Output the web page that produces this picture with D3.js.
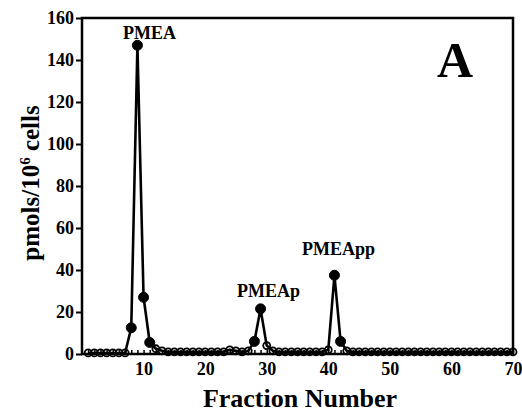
<!DOCTYPE html>
<html>
<head>
<meta charset="utf-8">
<script src="https://cdn.jsdelivr.net/npm/d3@7"></script>
<style>
  body { margin: 0; background: #fff; }
  svg { display: block; }
  text { font-family: "Liberation Serif", "DejaVu Serif", serif; font-weight: bold; fill: #000; }
</style>
</head>
<body>
<div id="chart"></div>
<script>
const fractions = d3.range(1, 71);
const pmols = [
  0.5, 0.5, 0.5, 0.5, 0.5, 0.5, 0.5, 12.5, 147, 27,
  5.5, 2.5, 1.5, 1, 1, 1, 1, 1, 1, 1,
  1, 1, 1, 2, 1.5, 1, 1.5, 6, 21.5, 4,
  1.5, 1, 1, 1, 1, 1, 1, 1, 1, 2,
  37.5, 6, 1.5, 1, 1, 1, 1, 1, 1, 1,
  1, 1, 1, 1, 1, 1, 1, 1, 1, 1,
  1, 1, 1, 1, 1, 1, 1, 1, 1, 1
];
// fractions drawn with filled markers (the peaks)
const filled = [8, 9, 10, 11, 28, 29, 41, 42];
const peakLabels = ["PMEA", "PMEAp", "PMEApp"];
const peakLabelAt = [[9, 150], [29, 27], [41, 47]];
const yTicks = [0, 20, 40, 60, 80, 100, 120, 140, 160];
const xLabelTicks = [10, 20, 30, 40, 50, 60, 70];

const width = 522;
const height = 415;
const pl = 82, pr = 9, pt = 18, pb = 61;
const serif = "'Liberation Serif', 'DejaVu Serif', serif";

const data = fractions.map((f, i) => ({ f, v: pmols[i], filled: filled.includes(f) }));

const x = d3.scaleLinear().domain([0, 70]).range([pl, width - pr]);
const y = d3.scaleLinear().domain([0, 160]).range([height - pb, pt]);

const svg = d3.select("#chart").append("svg")
  .attr("width", width)
  .attr("height", height);

// frame
svg.append("rect")
  .attr("x", pl).attr("y", pt)
  .attr("width", width - pl - pr)
  .attr("height", height - pt - pb)
  .attr("fill", "none")
  .attr("stroke", "#000")
  .attr("stroke-width", 2.5);

// y axis
const yAxis = svg.append("g")
  .attr("transform", `translate(${pl},0)`)
  .call(d3.axisLeft(y).tickValues(yTicks).tickSize(6).tickPadding(2))
  .attr("font-family", serif)
  .attr("font-size", 18)
  .attr("font-weight", "bold");
yAxis.select(".domain").remove();
yAxis.selectAll(".tick line").attr("stroke-width", 2);

// x axis: minor inward ticks every fraction, labels every 10
const xAxis = svg.append("g")
  .attr("transform", `translate(0,${height - pb})`)
  .call(d3.axisBottom(x)
    .tickValues(d3.range(1, 71))
    .tickSize(-4)
    .tickPadding(8)
    .tickFormat(d => xLabelTicks.includes(d) ? d : ""))
  .attr("font-family", serif)
  .attr("font-size", 18)
  .attr("font-weight", "bold");
xAxis.select(".domain").remove();
xAxis.selectAll(".tick line").attr("stroke-width", 1.5);

// data line
svg.append("path")
  .datum(data)
  .attr("fill", "none")
  .attr("stroke", "#000")
  .attr("stroke-width", 2.6)
  .attr("stroke-linejoin", "round")
  .attr("d", d3.line().x(d => x(d.f)).y(d => y(d.v)));

// markers
svg.append("g")
  .selectAll("circle")
  .data(data)
  .join("circle")
  .attr("cx", d => x(d.f))
  .attr("cy", d => y(d.v))
  .attr("r", d => d.filled ? 5 : 3.5)
  .attr("fill", d => d.filled ? "#000" : "none")
  .attr("stroke", "#000")
  .attr("stroke-width", d => d.filled ? 1 : 1.8);

// peak labels
svg.append("g")
  .selectAll("text")
  .data(peakLabels)
  .join("text")
  .attr("x", (d, i) => x(peakLabelAt[i][0]))
  .attr("y", (d, i) => y(peakLabelAt[i][1]))
  .attr("dx", (d, i) => [12, 8, 4][i])
  .attr("text-anchor", "middle")
  .style("font-size", "18px")
  .text(d => d);

// panel letter
svg.append("text")
  .attr("x", 455)
  .attr("y", 77)
  .attr("text-anchor", "middle")
  .style("font-size", "50px")
  .text("A");

// axis titles
svg.append("text")
  .attr("x", 300)
  .attr("y", 407)
  .attr("text-anchor", "middle")
  .style("font-size", "26px")
  .text("Fraction Number");

const yTitle = svg.append("text")
  .attr("transform", "translate(39,183) rotate(-90)")
  .attr("text-anchor", "middle")
  .style("font-size", "25px");
yTitle.append("tspan").text("pmols/10");
yTitle.append("tspan").attr("dy", -9).style("font-size", "15px").text("6");
yTitle.append("tspan").attr("dy", 9).text(" cells");
</script>
</body>
</html>
